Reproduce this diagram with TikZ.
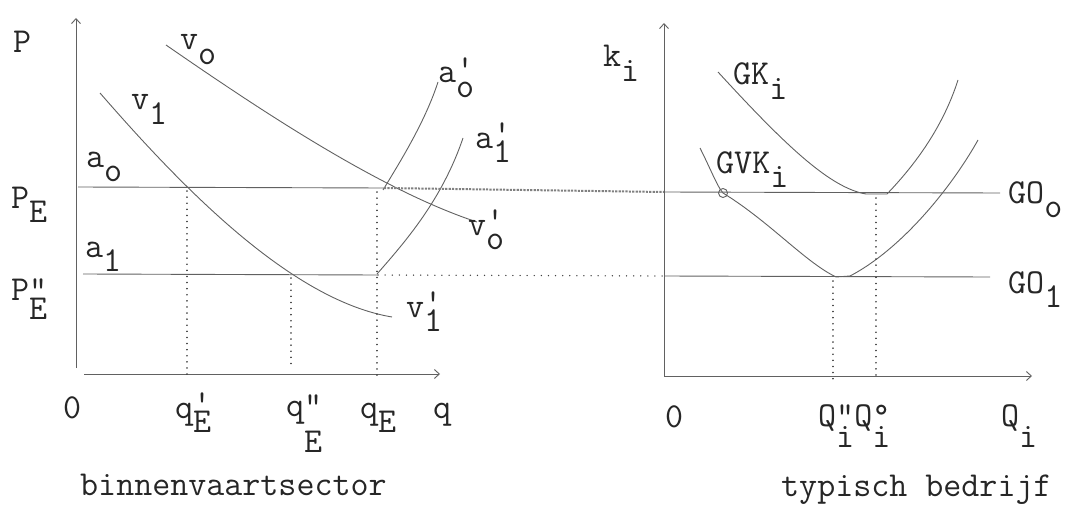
\documentclass[tikz,border=0pt]{standalone}
\usepackage{fontspec}
\usetikzlibrary{arrows.meta}
\newcommand\dn[1]{\raisebox{-0.42em}{#1}}
\newcommand\ps[2]{\rlap{\raisebox{0.1em}{#1}}\raisebox{-0.42em}{#2}}
\tikzset{
  lbl/.style={font=\ttfamily\fontsize{35}{37}\selectfont, text=black!85, inner sep=0pt, anchor=base west},
  ln/.style={draw=black!62, line width=0.9pt},
  axis/.style={ln, -{Straight Barb[length=5pt,width=9pt]}},
  dots/.style={draw=black!75, line width=1.6pt, dash pattern=on 0.1pt off 6pt, line cap=round},
  dense/.style={draw=black!50, line width=2pt, dash pattern=on 2.2pt off 1.2pt},
}
\begin{document}
\begin{tikzpicture}[x=1pt,y=-1pt]
\useasboundingbox (0,0) rectangle (1078,516);
% ---------- left panel ----------
\coordinate (lytop) at (76,18);
\coordinate (lxend) at (440,374);
\draw[axis] (76,368) -- (lytop);
\draw[axis] (84,374) -- (lxend);
% horizontal supply levels
\coordinate (pe0) at (78,187);
\coordinate (pe1) at (384,188);
\coordinate (pe1b) at (83,274);
\coordinate (pe2) at (378,275);
\draw[ln] (pe0) -- (pe1);
\draw[ln] (pe1b) -- (pe2);
% demand curves
\draw[ln] (166,45) .. controls (260,110) and (380,190) .. (477,222);
\draw[ln] (100,93) .. controls (180,185) and (290,300) .. (392,317);
% supply curves a'
\draw[ln] (383,190) .. controls (400,162) and (425,122) .. (438,82);
\draw[ln] (377,274) .. controls (405,242) and (442,200) .. (463,138);
% dotted verticals
\draw[dots] (187,191) -- (187,377);
\draw[dots] (291,278) -- (291,368);
\draw[dots] (377,192) -- (377,381);
% connectors to right panel
\coordinate (ro1) at (664,192);
\coordinate (ro2) at (664,276);
\draw[dense] (pe1) -- (ro1);
\draw[dots, line width=1.4pt, dash pattern=on 0.1pt off 7pt] (pe2) -- (ro2);
% labels left
\node[lbl] (lP) at (13,53) {P};
\node[lbl] (lvo) at (180,50) {v\dn{o}};
\node[lbl] (lv1) at (131,110) {v\dn{1}};
\node[lbl] (lao) at (86,167) {a\dn{o}};
\node[lbl] (lPE) at (11,208) {P\dn{E}};
\node[lbl] (la1) at (85,257) {a\dn{1}};
\node[lbl] (lPEE) at (11,300) {P\rlap{"}\raisebox{-0.55em}{E}};
\node[lbl] (laop) at (438,83) {a\ps{'}{o}};
\node[lbl] (la1p) at (475,148) {a\ps{'}{1}};
\node[lbl] (lvop) at (468,235) {v\ps{'}{o}};
\node[lbl] (lv1p) at (406,317) {v\ps{'}{1}};
\node[lbl] (l0) at (63,418) {0};
\node[lbl] (lqEp) at (175,418) {q\ps{'}{E}};
\node[lbl] (lqEpp) at (286,416) {q\rlap{"}\raisebox{-1.05em}{E}};
\node[lbl] (lqE) at (360,418) {q\dn{E}};
\node[lbl] (lq) at (433,418) {q};
\node[lbl] (lsec) at (80,495) {binnenvaartsector};
% ---------- right panel ----------
\coordinate (rytop) at (664,23);
\coordinate (rxend) at (1032,376);
\draw[axis] (664,376) -- (rytop);
\draw[axis] (664,376) -- (rxend);
\draw[ln] (ro1) -- (1000,193);
\draw[ln] (ro2) -- (990,277);
% GK curve
\draw[ln] (718,72) .. controls (785,145) and (830,188) .. (866,194) -- (887,194)
          .. controls (912,168) and (942,130) .. (958,80);
% GVK curve
\coordinate (gvkx) at (723,193);
\draw[ln] (700,148) .. controls (712,172) and (717,186) .. (gvkx)
          .. controls (770,222) and (805,262) .. (836,277) -- (850,276)
          .. controls (900,250) and (950,190) .. (978,140);
\draw[ln] (gvkx) circle (4.5pt);
% dotted verticals
\draw[dots] (833,281) -- (833,381);
\draw[dots] (876,198) -- (876,376);
% labels right
\node[lbl] (rk) at (603,67) {k\dn{i}};
\node[lbl] (rGK) at (733,85) {GK\dn{i}};
\node[lbl] (rGVK) at (716,173) {GVK\dn{i}};
\node[lbl] (rGOo) at (1008,203) {GO\dn{o}};
\node[lbl] (rGO1) at (1008,293) {GO\dn{1}};
\node[lbl] (r0) at (665,427) {0};
\node[lbl] (rQQ) at (818,426) {Q\rlap{"}\raisebox{-0.6em}{i}Q\rlap{°}\raisebox{-0.6em}{i}};
\node[lbl] (rQ) at (1001,426) {Q\raisebox{-0.6em}{i}};
\node[lbl] (rsec) at (781,496) {typisch bedrijf};
\end{tikzpicture}
\end{document}
